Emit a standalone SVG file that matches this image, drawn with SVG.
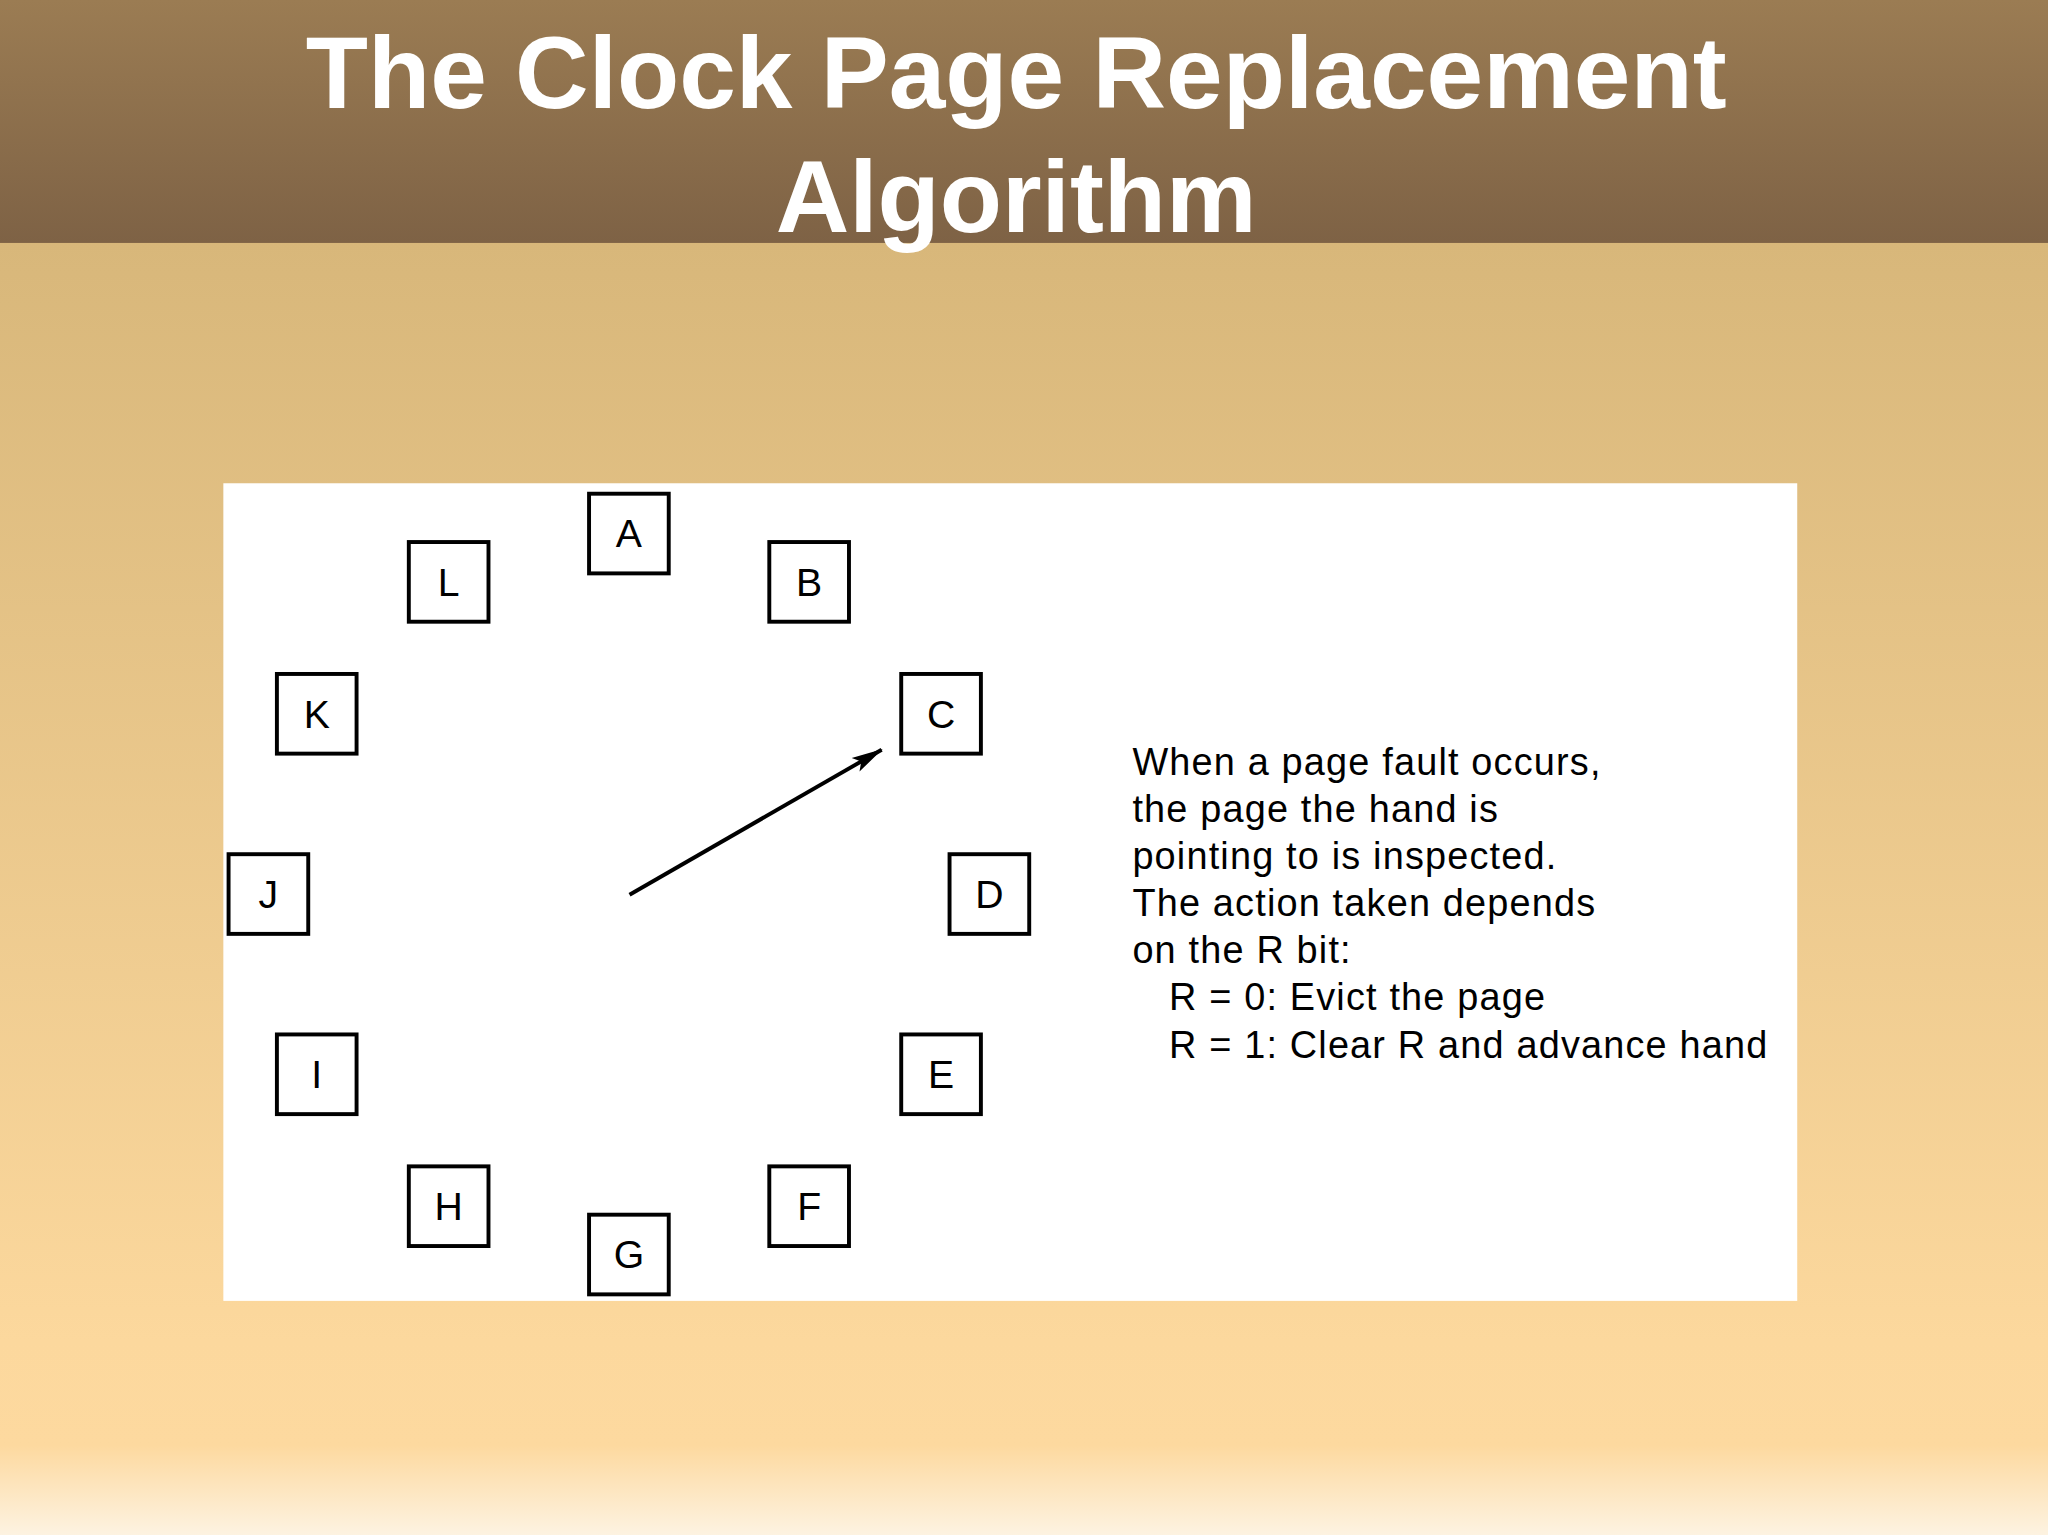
<svg xmlns="http://www.w3.org/2000/svg" width="2048" height="1535" viewBox="0 0 2048 1535">
<defs>
<linearGradient id="hd" x1="0" y1="0" x2="0" y2="1"><stop offset="0" stop-color="#9b7c53"/><stop offset="1" stop-color="#7e6245"/></linearGradient>
<linearGradient id="bg" x1="0" y1="0" x2="0" y2="1"><stop offset="0" stop-color="#d8b77a"/><stop offset="0.85" stop-color="#fcd89d"/><stop offset="0.93" stop-color="#fdd99f"/><stop offset="1" stop-color="#fdf3e2"/></linearGradient>
<marker id="ah" viewBox="0 0 24 14" refX="23" refY="7" markerWidth="24" markerHeight="14" orient="auto" markerUnits="userSpaceOnUse"><path d="M0,1 L24,7 L0,13 L5,7 Z" fill="#000"/></marker>
<style>
.b rect{fill:#fff;stroke:#000;stroke-width:3}
.b text{font-family:"Liberation Sans",Arial,sans-serif;font-size:30px;text-anchor:middle}
.t{font-family:"Liberation Sans",Arial,sans-serif;font-size:29px;letter-spacing:0.9px}
</style>
</defs>
<g transform="scale(1.30612)">
<rect x="0" y="185" width="1568" height="991" fill="url(#bg)"/>
<rect x="0" y="0" width="1568" height="186" fill="url(#hd)"/>
<text x="778" y="83" text-anchor="middle" font-family="Liberation Sans,Arial,sans-serif" font-weight="bold" font-size="78" fill="#fff">The Clock Page Replacement</text>
<text x="778" y="178" text-anchor="middle" font-family="Liberation Sans,Arial,sans-serif" font-weight="bold" font-size="78" fill="#fff">Algorithm</text>
<rect x="171" y="370" width="1205" height="626" fill="#fff"/>
<g id="A" class="b"><rect x="451" y="378" width="61" height="61"/><text x="481.5" y="419">A</text></g>
<g id="B" class="b"><rect x="589" y="415" width="61" height="61"/><text x="619.5" y="456">B</text></g>
<g id="C" class="b"><rect x="690" y="516" width="61" height="61"/><text x="720.5" y="557">C</text></g>
<g id="D" class="b"><rect x="727" y="654" width="61" height="61"/><text x="757.5" y="695">D</text></g>
<g id="E" class="b"><rect x="690" y="792" width="61" height="61"/><text x="720.5" y="833">E</text></g>
<g id="F" class="b"><rect x="589" y="893" width="61" height="61"/><text x="619.5" y="934">F</text></g>
<g id="G" class="b"><rect x="451" y="930" width="61" height="61"/><text x="481.5" y="971">G</text></g>
<g id="H" class="b"><rect x="313" y="893" width="61" height="61"/><text x="343.5" y="934">H</text></g>
<g id="I" class="b"><rect x="212" y="792" width="61" height="61"/><text x="242.5" y="833">I</text></g>
<g id="J" class="b"><rect x="175" y="654" width="61" height="61"/><text x="205.5" y="695">J</text></g>
<g id="K" class="b"><rect x="212" y="516" width="61" height="61"/><text x="242.5" y="557">K</text></g>
<g id="L" class="b"><rect x="313" y="415" width="61" height="61"/><text x="343.5" y="456">L</text></g>
<g id="connectors"><line x1="482" y1="685" x2="675" y2="574" stroke="#000" stroke-width="3" marker-end="url(#ah)"/></g>
<g id="note" class="t">
<text x="867" y="593">When a page fault occurs,</text>
<text x="867" y="629">the page the hand is</text>
<text x="867" y="665">pointing to is inspected.</text>
<text x="867" y="701">The action taken depends</text>
<text x="867" y="737">on the R bit:</text>
<text x="895" y="773">R = 0: Evict the page</text>
<text x="895" y="810">R = 1: Clear R and advance hand</text>
</g>
</g>
</svg>
